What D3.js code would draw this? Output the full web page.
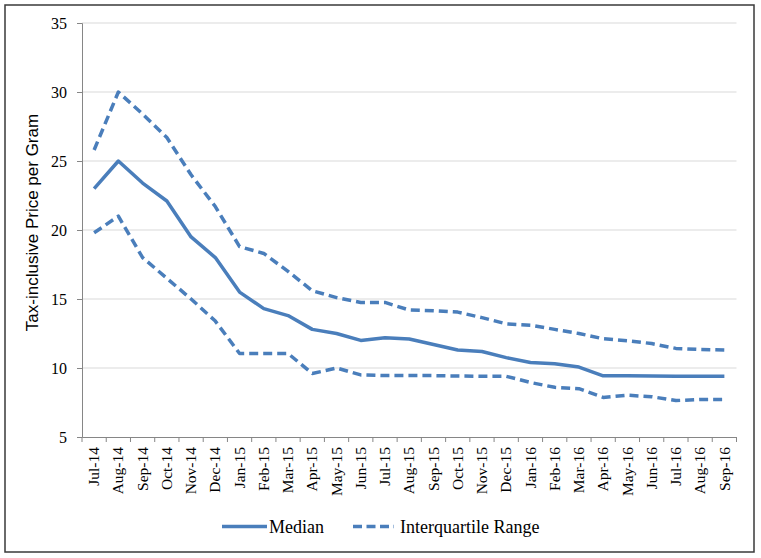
<!DOCTYPE html>
<html><head><meta charset="utf-8">
<script src="https://cdn.jsdelivr.net/npm/d3@7"></script>
</head><body style="margin:0">
<svg id="c" width="761" height="558"></svg>
<script>
const months = ["Jul-14","Aug-14","Sep-14","Oct-14","Nov-14","Dec-14","Jan-15","Feb-15","Mar-15","Apr-15","May-15","Jun-15","Jul-15","Aug-15","Sep-15","Oct-15","Nov-15","Dec-15","Jan-16","Feb-16","Mar-16","Apr-16","May-16","Jun-16","Jul-16","Aug-16","Sep-16"];
const median = [23.0,25.0,23.4,22.1,19.5,18.0,15.5,14.3,13.8,12.8,12.5,12.0,12.2,12.1,11.7,11.3,11.2,10.75,10.4,10.3,10.07,9.43,9.43,9.42,9.41,9.41,9.41];
const upper = [25.8,30.0,28.4,26.7,24.0,21.7,18.8,18.3,17.0,15.6,15.1,14.75,14.75,14.2,14.15,14.05,13.65,13.2,13.1,12.8,12.5,12.12,11.98,11.77,11.42,11.34,11.3];
const lower = [19.8,21.0,18.0,16.5,15.0,13.4,11.05,11.05,11.05,9.6,10.0,9.5,9.45,9.45,9.45,9.42,9.4,9.4,8.95,8.6,8.5,7.87,8.03,7.92,7.64,7.72,7.72];
const yTicks = [5,10,15,20,25,30,35];

const SERIF = '"Liberation Serif", Tinos';
const SANS = '"Liberation Sans", Arimo';
const svg = d3.select("#c");
const color = "#4a7ebb";
svg.append("rect").attr("x",5).attr("y",5).attr("width",749).attr("height",547)
  .attr("fill","#fff").attr("stroke","#3a3a3a").attr("stroke-width",1.5);

const L=82, R=736.5, T=23, B=437;
const x = d3.scaleBand().domain(months).range([L,R]);
const y = d3.scaleLinear().domain([5,35]).range([B,T]);

svg.append("g").selectAll("line").data(yTicks.filter(d=>d>5)).join("line")
  .attr("x1",L).attr("x2",R).attr("y1",d=>y(d)).attr("y2",d=>y(d))
  .attr("stroke","#d9d9d9").attr("stroke-width",1);

const ya = svg.append("g").attr("transform",`translate(${L},0)`)
  .call(d3.axisLeft(y).tickValues(yTicks).tickSize(5).tickPadding(10));
ya.attr("font-family",null).attr("font-size",null);
ya.select(".domain").attr("stroke","#868686");
ya.selectAll(".tick line").attr("stroke","#868686");
ya.selectAll("text").style("font-family",SERIF).style("font-size","16px").attr("fill","#000");

const xa = svg.append("g").attr("transform",`translate(0,${B})`)
  .call(d3.axisBottom(x).tickSize(0).tickSizeOuter(0));
xa.attr("font-family",null).attr("font-size",null);
xa.select(".domain").attr("stroke","#868686");
xa.selectAll(".tick line").remove();
xa.selectAll("text").style("font-family",SERIF).style("font-size","15.5px").attr("fill","#000")
  .attr("transform","rotate(-90)").attr("text-anchor","end").attr("dx","-10px").attr("dy","0.33em").attr("y",0).attr("x",0);
const bounds = months.map(m=>x(m)).concat([R]);
svg.append("g").selectAll("line").data(bounds).join("line")
  .attr("x1",d=>d).attr("x2",d=>d).attr("y1",B).attr("y2",B+5)
  .attr("stroke","#868686");

svg.append("text").attr("transform",`translate(38,222.5) rotate(-90)`)
  .attr("text-anchor","middle").style("font-family",SANS)
  .style("font-size","17px").text("Tax-inclusive Price per Gram");

const line = d3.line().x((d,i)=>x(months[i])+x.bandwidth()/2).y(d=>y(d));
svg.append("path").datum(upper).attr("d",line).attr("fill","none").attr("stroke",color)
  .attr("stroke-width",3.5).attr("stroke-dasharray","9,5").attr("stroke-linejoin","round");
svg.append("path").datum(lower).attr("d",line).attr("fill","none").attr("stroke",color)
  .attr("stroke-width",3.5).attr("stroke-dasharray","9,5").attr("stroke-linejoin","round");
svg.append("path").datum(median).attr("d",line).attr("fill","none").attr("stroke",color)
  .attr("stroke-width",3.5).attr("stroke-linejoin","round");

const lg = svg.append("g");
lg.append("line").attr("x1",222).attr("x2",267).attr("y1",526.5).attr("y2",526.5)
  .attr("stroke",color).attr("stroke-width",3.5);
lg.append("text").attr("x",269).attr("y",532.5).style("font-family",SERIF)
  .style("font-size","18px").text("Median");
lg.append("line").attr("x1",353).attr("x2",394).attr("y1",526.5).attr("y2",526.5)
  .attr("stroke",color).attr("stroke-width",3.5).attr("stroke-dasharray","9,4.5");
lg.append("text").attr("x",400).attr("y",532.5).style("font-family",SERIF)
  .style("font-size","18px").text("Interquartile Range");
</script>
</body></html>
